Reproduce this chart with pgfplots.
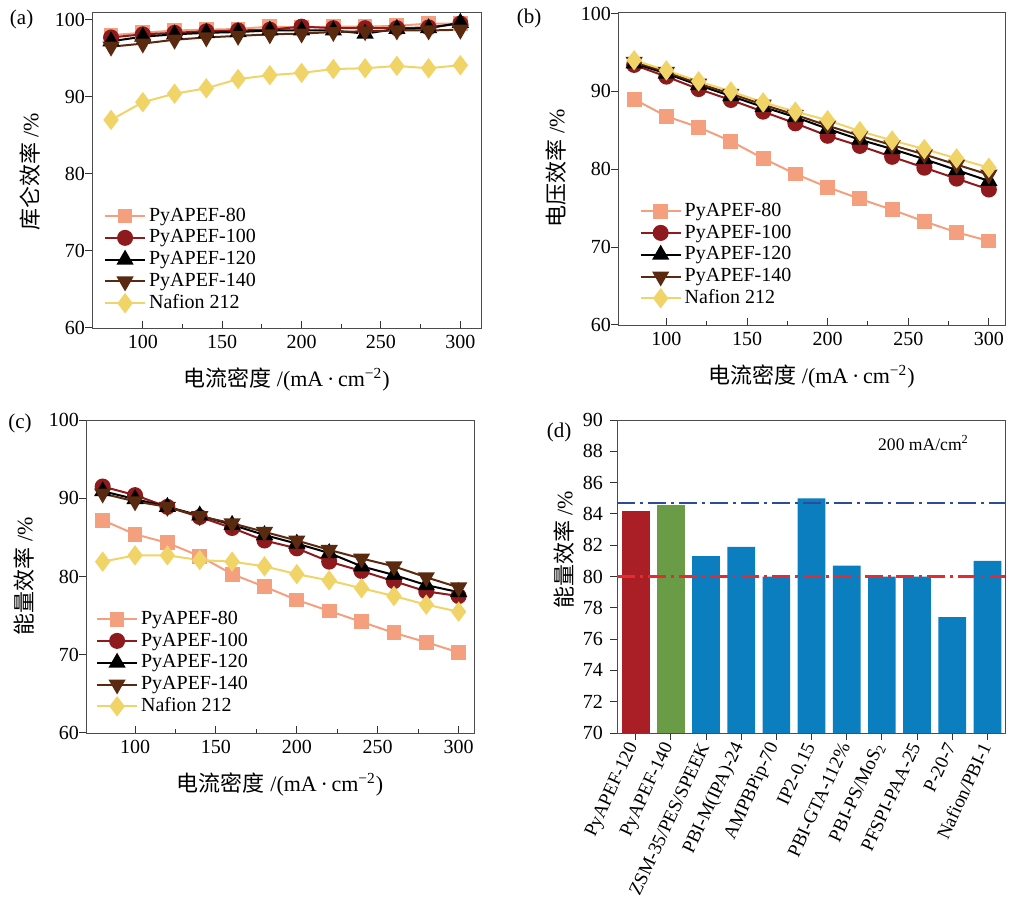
\documentclass[border=0pt]{standalone}
\usepackage{fontspec}
\setmainfont{Liberation Serif}
\newfontfamily\cjk{Noto Sans CJK SC}
\usepackage{pgfplots}
\pgfplotsset{compat=1.18}
\definecolor{c80}{HTML}{F4A07E}
\definecolor{c100}{HTML}{8E1A1E}
\definecolor{c120}{HTML}{000000}
\definecolor{c140}{HTML}{5A2A10}
\definecolor{cnaf}{HTML}{F0D468}
\definecolor{bred}{HTML}{AA1F26}
\definecolor{bgreen}{HTML}{6A9B47}
\definecolor{bblue}{HTML}{0A7EBF}
\definecolor{lblue}{HTML}{2B4C9B}
\definecolor{lred}{HTML}{E62A2E}
\pgfplotsset{
  common/.style={
    scale only axis,
    xtick pos=bottom, ytick pos=left,
    major tick length=3.5pt, minor tick length=2pt,
    tick label style={font=\fontsize{10}{12}\selectfont},
    /pgf/number format/assume math mode=true,
    axis line style={black!70},
    every tick/.style={black!80, line width=0.5pt},
  },
  lineax/.style={
    common,
    width=194pt, height=156.5pt,
    ymin=60, ymax=100,
    xtick={100,150,...,300}, minor x tick num=1,
    ytick={60,70,...,100},
    tick align=inside,
    ytick style={xshift=-3.5pt},
    every axis x label/.style={at={(axis description cs:0.5,0)}, anchor=center, yshift=-25.5pt},
    every axis y label/.style={at={(axis description cs:0,0.5)}, anchor=center, xshift=-31pt, rotate=90},
    label style={font=\fontsize{11}{13}\selectfont},
    xlabel={{\cjk 电流密度} /(mA\,·\,cm\textsuperscript{−2})},
    legend style={draw=none, fill=none, font=\fontsize{10}{12}\selectfont, anchor=north west,
      inner sep=0pt, row sep=0pt, nodes={inner sep=1.5pt, text height=6.5pt, text depth=1.4pt}},
    legend cell align=left,
    legend image code/.code={\draw[mark repeat=2,mark phase=2] plot coordinates {(0pt,0pt) (10pt,0pt) (20pt,0pt)};},
    every axis plot/.append style={line width=1pt},
  },
  s80/.style={c80, mark=square*, mark size=3.2pt, mark options={solid, fill=c80, draw=c80}},
  s100/.style={c100, mark=*, mark size=3.5pt, mark options={solid, fill=c100, draw=c100}},
  s120/.style={c120, mark=triangle*, mark size=4pt, mark options={solid, fill=c120, draw=c120}},
  s140/.style={c140, mark=triangle*, mark size=4pt, mark options={solid, rotate=180, fill=c140, draw=c140}},
  snaf/.style={cnaf, mark=diamond*, mark size=4.3pt, mark options={solid, fill=cnaf, draw=cnaf}},
}
\begin{document}
\begin{tikzpicture}
\useasboundingbox (0,0) rectangle (508.5pt,-449.5pt);
% (a)
\begin{axis}[lineax, at={(46pt,-6pt)}, anchor=north west, width=194.5pt, height=158pt,
  xmin=68, xmax=313, ymax=101,
  ylabel={{\cjk 库仑效率} /\%},
  every axis y label/.append style={xshift=-1pt},
  legend style={at={(axis description cs:0.03,0.39)}}]
\addplot[s80] coordinates {(80,98.0)(100,98.3)(120,98.6)(140,98.7)(160,98.8)(180,99.1)(200,99.0)(220,99.1)(240,99.1)(260,99.2)(280,99.5)(300,99.5)};
\addplot[s100] coordinates {(80,97.7)(100,98.1)(120,98.3)(140,98.5)(160,98.6)(180,98.7)(200,99.1)(220,98.9)(240,98.9)(260,98.9)(280,99.0)(300,99.5)};
\addplot[s120] coordinates {(80,97.2)(100,97.8)(120,98.1)(140,98.3)(160,98.4)(180,98.6)(200,98.6)(220,98.6)(240,98.2)(260,98.8)(280,98.9)(300,99.6)};
\addplot[s140] coordinates {(80,96.5)(100,96.9)(120,97.4)(140,97.7)(160,97.9)(180,98.1)(200,98.2)(220,98.4)(240,98.5)(260,98.6)(280,98.6)(300,98.7)};
\addplot[snaf] coordinates {(80,87.0)(100,89.3)(120,90.4)(140,91.1)(160,92.3)(180,92.8)(200,93.1)(220,93.6)(240,93.7)(260,94.0)(280,93.7)(300,94.1)};
\legend{PyAPEF-80,PyAPEF-100,PyAPEF-120,PyAPEF-140,Nafion 212}
\end{axis}
% (b)
\begin{axis}[lineax, at={(309pt,-6pt)}, anchor=north west, width=193.5pt, height=156.5pt,
  xmin=70, xmax=310, ymax=100.2,
  ylabel={{\cjk 电压效率} /\%},
  legend style={at={(axis description cs:0.055,0.40)}}]
\addplot[s80] coordinates {(80,89.0)(100,86.8)(120,85.4)(140,83.6)(160,81.4)(180,79.4)(200,77.7)(220,76.2)(240,74.8)(260,73.3)(280,71.9)(300,70.8)};
\addplot[s100] coordinates {(80,93.4)(100,91.9)(120,90.3)(140,88.9)(160,87.4)(180,85.9)(200,84.3)(220,83.0)(240,81.6)(260,80.2)(280,78.8)(300,77.4)};
\addplot[s120] coordinates {(80,93.6)(100,92.3)(120,90.8)(140,89.4)(160,88.0)(180,86.7)(200,85.2)(220,83.8)(240,82.6)(260,81.3)(280,79.9)(300,78.5)};
\addplot[s140] coordinates {(80,93.8)(100,92.5)(120,91.0)(140,89.7)(160,88.3)(180,87.0)(200,85.6)(220,84.3)(240,83.1)(260,81.9)(280,80.6)(300,79.3)};
\addplot[snaf] coordinates {(80,94.0)(100,92.7)(120,91.3)(140,90.0)(160,88.6)(180,87.4)(200,86.3)(220,84.9)(240,83.7)(260,82.6)(280,81.4)(300,80.2)};
\legend{PyAPEF-80,PyAPEF-100,PyAPEF-120,PyAPEF-140,Nafion 212}
\end{axis}
% (c)
\begin{axis}[lineax, at={(43pt,-210pt)}, anchor=north west, width=194pt, height=156.5pt,
  xmin=69.7, xmax=309.5,
  ylabel={{\cjk 能量效率} /\%},
  legend style={at={(axis description cs:0.025,0.40)}}]
\addplot[s80] coordinates {(80,87.2)(100,85.4)(120,84.3)(140,82.6)(160,80.3)(180,78.7)(200,77.0)(220,75.6)(240,74.2)(260,72.8)(280,71.6)(300,70.3)};
\addplot[s100] coordinates {(80,91.5)(100,90.4)(120,88.9)(140,87.6)(160,86.2)(180,84.6)(200,83.6)(220,81.9)(240,80.7)(260,79.4)(280,78.1)(300,77.5)};
\addplot[s120] coordinates {(80,90.9)(100,89.9)(120,88.9)(140,87.8)(160,86.6)(180,85.3)(200,84.2)(220,83.0)(240,81.3)(260,80.2)(280,78.9)(300,78.0)};
\addplot[s140] coordinates {(80,90.6)(100,89.6)(120,88.9)(140,87.7)(160,86.8)(180,85.7)(200,84.6)(220,83.4)(240,82.3)(260,81.3)(280,79.9)(300,78.6)};
\addplot[snaf] coordinates {(80,81.9)(100,82.7)(120,82.7)(140,82.1)(160,81.9)(180,81.3)(200,80.3)(220,79.5)(240,78.5)(260,77.5)(280,76.4)(300,75.5)};
\legend{PyAPEF-80,PyAPEF-100,PyAPEF-120,PyAPEF-140,Nafion 212}
\end{axis}
% (d)
\begin{axis}[common, at={(308.5pt,-210pt)}, anchor=north west, width=194pt, height=156.5pt,
  xmin=-0.53, xmax=10.5, ymin=70, ymax=90,
  ytick={70,72,...,90}, xtick={0,...,10},
  tick align=outside,
  xticklabels={PyAPEF-120,PyAPEF-140,ZSM-35/PES/SPEEK,PBI-M(IPA)-24,AMPBPip-70,IP2-0.15,PBI-GTA-112\%,PBI-PS/MoS\textsubscript{2},PFSPI-PAA-25,P-20-7,Nafion/PBI-1},
  xticklabel style={rotate=65, anchor=east, font=\fontsize{9.5}{11}\selectfont, inner sep=2pt},
  ylabel={{\cjk 能量效率} /\%},
  every axis y label/.style={at={(axis description cs:0,0.585)}, anchor=center, xshift=-26.5pt, rotate=90},
  label style={font=\fontsize{11}{13}\selectfont}]
\addplot[ybar, bar width=13.85pt, bar shift=0pt, fill=bred, draw=none] coordinates {(0,84.2)};
\addplot[ybar, bar width=13.85pt, bar shift=0pt, fill=bgreen, draw=none] coordinates {(1,84.6)};
\addplot[ybar, bar width=13.85pt, bar shift=0pt, fill=bblue, draw=none] coordinates {(2,81.3)(3,81.9)(4,80.0)(5,85.0)(6,80.7)(7,80.0)(8,80.0)(9,77.4)(10,81.0)};
\addplot[sharp plot, lblue, line width=1.1pt, dash pattern=on 9pt off 2.5pt on 1.5pt off 2.5pt] coordinates {(-0.53,84.7)(10.5,84.7)};
\addplot[sharp plot, lred, line width=1.1pt, dash pattern=on 9pt off 2.5pt on 1.5pt off 2.5pt] coordinates {(-0.53,80.0)(10.5,80.0)};
\node[font=\fontsize{8.8}{10}\selectfont] at (rel axis cs:0.79,0.927) {200 mA/cm\textsuperscript{2}};
\end{axis}
% panel labels
\node[font=\fontsize{10.5}{12}\selectfont] at (10.8pt,-9.6pt) {(a)};
\node[font=\fontsize{10.5}{12}\selectfont] at (264.5pt,-9pt) {(b)};
\node[font=\fontsize{10.5}{12}\selectfont] at (10pt,-211.5pt) {(c)};
\node[font=\fontsize{10.5}{12}\selectfont] at (279.5pt,-216pt) {(d)};
\end{tikzpicture}
\end{document}
